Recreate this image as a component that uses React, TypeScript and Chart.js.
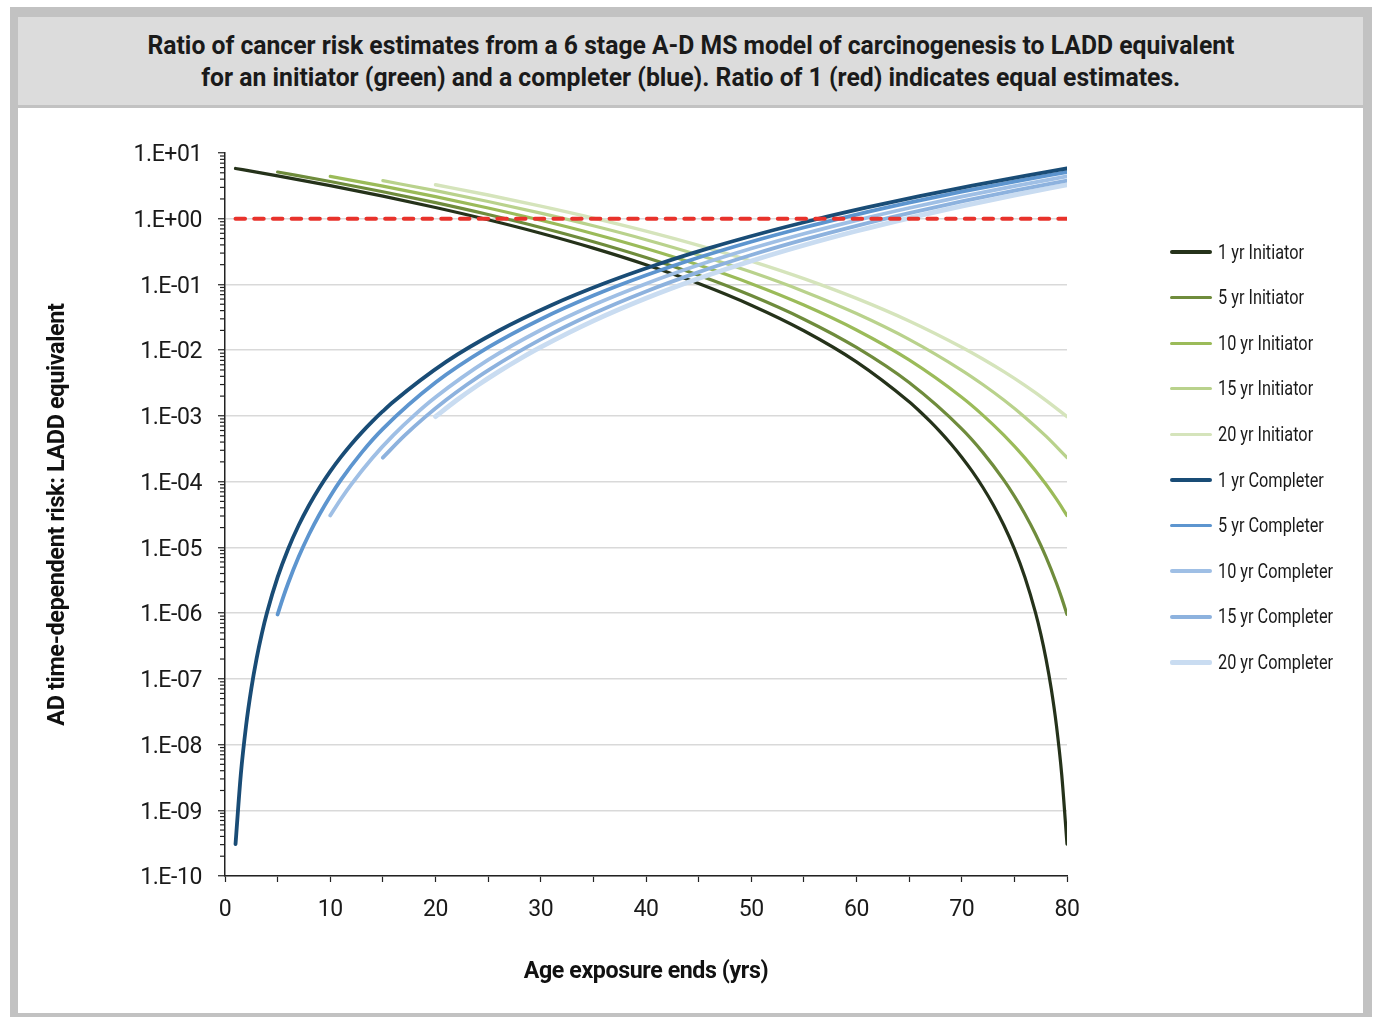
import { useEffect, useLayoutEffect, useRef } from "react";
import { Chart, registerables } from "chart.js";
Chart.register(...registerables);

const FONT = "Roboto, 'Noto Sans', 'DejaVu Sans', sans-serif";

// ---- data (age exposure ends, yrs) ----
const xI1 = [1, 3, 5, 10, 15, 20, 25, 30, 35, 40, 45, 50, 55, 60, 65, 66, 67, 68, 69, 70, 71, 72, 73, 74, 75, 76, 77, 77.5, 78, 78.5, 79, 79.5, 80];
const yI1 = [5.8156, 5.12, 4.4926, 3.1895, 2.208, 1.4845, 0.96446, 0.60159, 0.35722, 0.19962, 0.10331, 0.048371, 0.019768, 0.0066425, 0.0016439, 1.17831e-3, 8.2481e-4, 5.6177e-4, 3.7061e-4, 2.3546e-4, 1.42993e-4, 8.2183e-5, 4.4096e-5, 2.1665e-5, 9.4699e-6, 3.5184e-6, 1.0275e-6, 4.865e-7, 2.0294e-7, 7.103e-8, 1.9226e-8, 3.4714e-9, 3.0518e-10];

const xI5 = [5, 10, 15, 20, 25, 30, 35, 40, 45, 50, 55, 60, 65, 70, 72, 74, 75, 76, 77, 78, 79, 79.5, 80];
const yI5 = [5.137, 3.6822, 2.5775, 1.7555, 1.15816, 0.73582, 0.44685, 0.25682, 0.1378, 0.067704, 0.029594, 0.010995, 3.211e-3, 6.3419e-4, 2.786e-4, 1.0528e-4, 6.0081e-5, 3.2186e-5, 1.59555e-5, 7.1768e-6, 2.8476e-6, 1.6895e-6, 9.5367e-7];

const xI10 = [10, 15, 20, 25, 30, 35, 40, 45, 50, 55, 60, 65, 70, 72, 74, 76, 78, 79, 80];
const yI10 = [4.4096, 3.1299, 2.1665, 1.45686, 0.94699, 0.59134, 0.35184, 0.19731, 0.10275, 0.048649, 0.020294, 7.103e-3, 1.92261e-3, 1.02997e-3, 5.1058e-4, 2.2966e-4, 9.1123e-5, 5.4064e-5, 3.0518e-5];

const xI15 = [15, 20, 25, 30, 35, 40, 45, 50, 55, 60, 65, 70, 72, 74, 76, 78, 80];
const yI15 = [3.7989, 2.6718, 1.83041, 1.21651, 0.78028, 0.47983, 0.28049, 0.15411, 0.078366, 0.036097, 0.0146, 4.9467e-3, 3.0065e-3, 1.74396e-3, 9.5707e-4, 4.9108e-4, 2.3174e-4];

const xI20 = [20, 25, 30, 35, 40, 45, 50, 55, 60, 65, 70, 72, 74, 76, 78, 80];
const yI20 = [3.2881, 2.2934, 1.55676, 1.02409, 0.64941, 0.39432, 0.2273, 0.12298, 0.061523, 0.027876, 0.011108, 7.3491e-3, 4.713e-3, 2.9159e-3, 1.73004e-3, 9.7656e-4];

const xC1 = [1, 1.5, 2, 2.5, 3, 3.5, 4, 5, 6, 7, 8, 9, 10, 11, 12, 13, 14, 15, 16, 21, 26, 31, 36, 41, 46, 51, 56, 61, 66, 71, 76, 78, 80];
const yC1 = [3.0518e-10, 3.4714e-9, 1.9226e-8, 7.103e-8, 2.0294e-7, 4.865e-7, 1.0275e-6, 3.5184e-6, 9.4699e-6, 2.1665e-5, 4.4096e-5, 8.2183e-5, 1.42993e-4, 2.3546e-4, 3.7061e-4, 5.6177e-4, 8.2481e-4, 1.17831e-3, 1.6439e-3, 6.6425e-3, 0.019768, 0.048371, 0.10331, 0.19962, 0.35722, 0.60159, 0.96446, 1.4845, 2.208, 3.1895, 4.4926, 5.12, 5.8156];

const xC5 = [5, 5.5, 6, 7, 8, 9, 10, 11, 13, 15, 20, 25, 30, 35, 40, 45, 50, 55, 60, 65, 70, 75, 80];
const yC5 = [9.5367e-7, 1.6895e-6, 2.8476e-6, 7.1768e-6, 1.59555e-5, 3.2186e-5, 6.0081e-5, 1.0528e-4, 2.786e-4, 6.3419e-4, 3.211e-3, 0.010995, 0.029594, 0.067704, 0.1378, 0.25682, 0.44685, 0.73582, 1.15816, 1.7555, 2.5775, 3.6822, 5.137];

const xC10 = [10, 11, 12, 14, 16, 18, 20, 25, 30, 35, 40, 45, 50, 55, 60, 65, 70, 75, 80];
const yC10 = [3.0518e-5, 5.4064e-5, 9.1123e-5, 2.2966e-4, 5.1058e-4, 1.02997e-3, 1.92261e-3, 7.103e-3, 0.020294, 0.048649, 0.10275, 0.19731, 0.35184, 0.59134, 0.94699, 1.45686, 2.1665, 3.1299, 4.4096];

const xC15 = [15, 17, 19, 21, 23, 25, 30, 35, 40, 45, 50, 55, 60, 65, 70, 75, 80];
const yC15 = [2.3174e-4, 4.9108e-4, 9.5707e-4, 1.74396e-3, 3.0065e-3, 4.9467e-3, 0.0146, 0.036097, 0.078366, 0.15411, 0.28049, 0.47983, 0.78028, 1.21651, 1.83041, 2.6718, 3.7989];

const xC20 = [20, 22, 24, 26, 28, 30, 35, 40, 45, 50, 55, 60, 65, 70, 75, 80];
const yC20 = [9.7656e-4, 1.73004e-3, 2.9159e-3, 4.713e-3, 7.3491e-3, 0.011108, 0.027876, 0.061523, 0.12298, 0.2273, 0.39432, 0.64941, 1.02409, 1.55676, 2.2934, 3.2881];

const xRef = [1, 80];
const yRef = [1, 1];

const seriesNames = [
  "1 yr Initiator", "5 yr Initiator", "10 yr Initiator", "15 yr Initiator", "20 yr Initiator",
  "1 yr Completer", "5 yr Completer", "10 yr Completer", "15 yr Completer", "20 yr Completer",
];
const seriesX = [xI1, xI5, xI10, xI15, xI20, xC1, xC5, xC10, xC15, xC20];
const seriesY = [yI1, yI5, yI10, yI15, yI20, yC1, yC5, yC10, yC15, yC20];

const titleLines = [
  "Ratio of cancer risk estimates from a 6 stage A-D MS model of carcinogenesis to LADD equivalent",
  "for an initiator (green) and a completer (blue). Ratio of 1 (red) indicates equal estimates.",
];
const xTitle = "Age exposure ends (yrs)";
const yTitle = "AD time-dependent risk: LADD equivalent";

const yTickValues = [1e-10, 1e-9, 1e-8, 1e-7, 1e-6, 1e-5, 1e-4, 1e-3, 1e-2, 1e-1, 1, 10];
const yTickLabels = ["1.E-10", "1.E-09", "1.E-08", "1.E-07", "1.E-06", "1.E-05", "1.E-04", "1.E-03", "1.E-02", "1.E-01", "1.E+00", "1.E+01"];
const yMinorMultipliers = [2, 3, 4, 5, 6, 7, 8, 9];

// ---- styles ----
const seriesColors = [
  "#25321a", "#6f8c3c", "#9bbb59", "#b9d28c", "#d5e4bb",
  "#194c76", "#5d95cf", "#9fbfe5", "#8db2de", "#c9dcf1",
];
const seriesWidths = [3.2, 3.2, 3.2, 3.2, 3.4, 3.8, 3.8, 3.8, 3.8, 4.8];
// lower order = drawn on top: blues above greens
const seriesOrder = [10, 9, 8, 7, 6, 1, 2, 3, 4, 5];
const titleTargetWidths = [1087, 979];
const legendTargetWidth = 86; // width of the first legend label

const minorTicksPlugin = {
  id: "minorTicks",
  beforeDraw(chart: any) {
    (chart.ctx as any).letterSpacing = "-0.4px";
  },
  afterDraw(chart: any) {
    const y = chart.scales.y;
    const ctx = chart.ctx;
    ctx.save();
    ctx.strokeStyle = "#222";
    ctx.lineWidth = 1.2;
    for (let i = 0; i < yTickValues.length - 1; i++) {
      for (const m of yMinorMultipliers) {
        const py = y.getPixelForValue(yTickValues[i] * m);
        ctx.beginPath();
        ctx.moveTo(y.right - 5, py);
        ctx.lineTo(y.right, py);
        ctx.stroke();
      }
    }
    ctx.restore();
  },
};

export default function App() {
  const ref = useRef<HTMLCanvasElement>(null);
  const titleRefs = useRef<(HTMLSpanElement | null)[]>([]);
  const legendRefs = useRef<(HTMLSpanElement | null)[]>([]);

  useLayoutEffect(() => {
    titleRefs.current.forEach((el, i) => {
      if (!el) return;
      el.style.transform = "none";
      const w = el.getBoundingClientRect().width;
      el.style.transform = `scaleX(${titleTargetWidths[i] / w})`;
    });
    const first = legendRefs.current[0];
    if (first) {
      first.style.transform = "none";
      const s = legendTargetWidth / first.getBoundingClientRect().width;
      legendRefs.current.forEach((el) => {
        if (el) el.style.transform = `scaleX(${s})`;
      });
    }
  }, []);

  useEffect(() => {
    Chart.defaults.font.family = FONT;
    const datasets: any[] = [
      {
        label: "Ratio of 1",
        data: xRef.map((x, i) => ({ x, y: yRef[i] })),
        borderColor: "#e8322b",
        backgroundColor: "#e8322b",
        borderWidth: 4,
        borderDash: [9.5, 9.2],
        borderCapStyle: "round",
        pointRadius: 0,
        fill: false,
        order: 0,
      },
      ...seriesNames.map((name, i) => ({
        label: name,
        data: seriesX[i].map((x, j) => ({ x, y: seriesY[i][j] })),
        borderColor: seriesColors[i],
        backgroundColor: seriesColors[i],
        borderWidth: seriesWidths[i],
        pointRadius: 0,
        cubicInterpolationMode: "monotone",
        borderCapStyle: "round",
        borderJoinStyle: "round",
        fill: false,
        order: seriesOrder[i],
      })),
    ];

    const chart = new Chart(ref.current as HTMLCanvasElement, {
      type: "line",
      data: { datasets },
      options: {
        animation: false,
        responsive: true,
        maintainAspectRatio: false,
        layout: { padding: { left: 0, top: 45, right: 296, bottom: 0 } },
        plugins: {
          legend: { display: false },
          tooltip: { enabled: false },
        },
        scales: {
          x: {
            type: "linear",
            min: 0,
            max: 80,
            afterFit: (s: any) => {
              s.height = 137;
            },
            ticks: {
              stepSize: 5,
              autoSkip: false,
              maxRotation: 0,
              padding: 14,
              color: "#1a1a1a",
              font: { size: 23 },
              callback: (v: any) => (Number(v) % 10 === 0 ? String(v) : ""),
            },
            grid: {
              drawOnChartArea: false,
              drawTicks: true,
              tickLength: 6,
              tickColor: "#222",
              tickWidth: 1.2,
            },
            border: { color: "#222", width: 1.5 },
            title: {
              display: true,
              text: xTitle,
              color: "#111",
              font: { size: 23.2, weight: "bold" },
              padding: { top: 0, bottom: 27 },
            },
          },
          y: {
            type: "logarithmic",
            min: 1e-10,
            max: 10,
            afterFit: (s: any) => {
              s.width = 207;
            },
            afterBuildTicks: (s: any) => {
              s.ticks = yTickValues.map((v) => ({ value: v, major: true }));
            },
            ticks: {
              autoSkip: false,
              padding: 16,
              labelOffset: 2.5,
              color: "#1a1a1a",
              font: { size: 23 },
              callback: (_v: any, i: number) => yTickLabels[i],
            },
            grid: {
              color: (c: any) => (c.tick && c.tick.value === 10 ? "rgba(0,0,0,0)" : "#d9d9d9"),
              lineWidth: 1.5,
              drawTicks: true,
              tickLength: 7,
              tickColor: "#222",
              tickWidth: 1.2,
            },
            border: { color: "#222", width: 1.5 },
            title: {
              display: true,
              text: yTitle,
              color: "#111",
              font: { size: 23.5, weight: "bold" },
              padding: { top: 26, bottom: 0 },
            },
          },
        },
      } as any,
      plugins: [minorTicksPlugin],
    });
    return () => chart.destroy();
  }, []);

  return (
    <div style={{ position: "absolute", left: 0, top: 0, width: 1375, height: 1017, overflow: "hidden", background: "#fff" }}>
      <div style={{ position: "absolute", left: 10, top: 7, width: 1362, height: 1014, background: "#c2c2c2" }} />
      <div
        style={{
          position: "absolute",
          left: 18,
          top: 17,
          width: 1345,
          height: 88,
          background: "#dcdcdc",
          display: "flex",
          flexDirection: "column",
          alignItems: "center",
          justifyContent: "center",
          fontFamily: FONT,
          fontWeight: "bold",
          fontSize: 26,
          lineHeight: "32px",
          color: "#1a1a1a",
        }}
      >
        {titleLines.map((t, i) => (
          <span
            key={i}
            ref={(el) => {
              titleRefs.current[i] = el;
            }}
            style={{ display: "inline-block", whiteSpace: "nowrap", transformOrigin: "center" }}
          >
            {t}
          </span>
        ))}
      </div>
      <div style={{ position: "absolute", left: 18, top: 108, width: 1345, height: 905, background: "#fff" }}>
        <canvas ref={ref} />
      </div>
      {seriesNames.map((name, i) => (
        <div
          key={name}
          style={{
            position: "absolute",
            left: 1170,
            top: 252 + i * 45.6 - 12,
            height: 24,
            display: "flex",
            alignItems: "center",
            fontFamily: FONT,
            fontSize: 19.5,
            color: "#1a1a1a",
            whiteSpace: "nowrap",
          }}
        >
          <div style={{ width: 42, height: seriesWidths[i], background: seriesColors[i], borderRadius: 2, marginRight: 6, flexShrink: 0 }} />
          <span
            ref={(el) => {
              legendRefs.current[i] = el;
            }}
            style={{ display: "inline-block", transformOrigin: "left center" }}
          >
            {name}
          </span>
        </div>
      ))}
    </div>
  );
}
